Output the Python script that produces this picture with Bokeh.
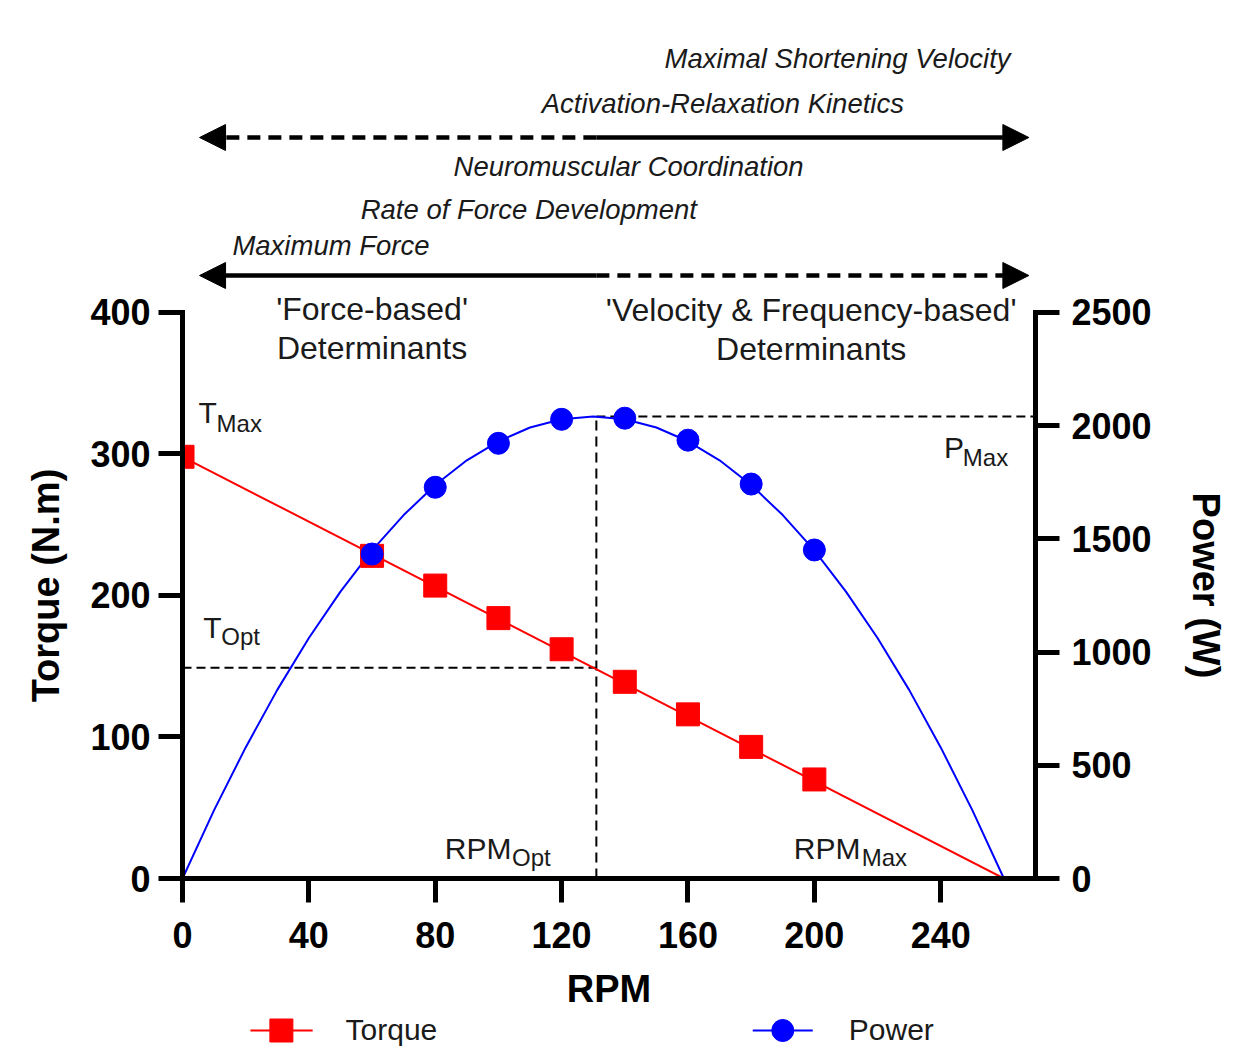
from bokeh.plotting import figure
from bokeh.models import Range1d, LinearAxis, FixedTicker, Arrow, NormalHead
from bokeh.layouts import column
from bokeh.core.properties import value
from bokeh.embed import file_html
from bokeh.resources import INLINE

# ---------------- data ----------------
rpm_ticks = [0, 40, 80, 120, 160, 200, 240]
torque_ticks = [0, 100, 200, 300, 400]
power_ticks = [0, 500, 1000, 1500, 2000, 2500]

torque_rpm = [0, 60, 80, 100, 120, 140, 160, 180, 200]
torque_vals = [298, 228, 207, 184, 162, 139, 116, 93, 70]

power_rpm = [60, 80, 100, 120, 140, 160, 180, 200]
power_vals = [1433, 1728, 1922, 2028, 2033, 1936, 1742, 1451]

torque_fit_rpm = [0, 260]
torque_fit = [298, 0]

power_fit_rpm = [0, 10, 20, 30, 40, 50, 60, 70, 80, 90, 100, 110, 120, 130,
                 140, 150, 160, 170, 180, 190, 200, 210, 220, 230, 240, 250, 260]
power_fit = [0, 302, 579, 833, 1062, 1267, 1449, 1605, 1738, 1847, 1931, 1992, 2028, 2040,
             2028, 1992, 1931, 1847, 1738, 1605, 1449, 1267, 1062, 833, 579, 302, 0]

rpm_opt = 131
torque_opt = 149
power_max = 2040

FONT = "Liberation Sans"
RED = "#ff0000"
BLUE = "#0000ff"
TXT = "#1a1a1a"

W = 1236
LB, RB = 182, 201
x_range = Range1d(0, 270)

common = dict(width=W, x_range=x_range, toolbar_location=None, output_backend="svg",
              min_border_left=LB, min_border_right=RB, title=None,
              outline_line_color=None)

# ---------------- top annotation panel ----------------
top = figure(height=292, y_range=Range1d(292, 0), x_axis_type=None, y_axis_type=None,
             min_border_top=0, min_border_bottom=0, **common)

top.text(x=[152.6, 113.7, 85.8, 56.4, 15.8], y=[57.5, 102.5, 165.5, 208.5, 244.5],
         text=["Maximal Shortening Velocity", "Activation-Relaxation Kinetics",
               "Neuromuscular Coordination", "Rate of Force Development", "Maximum Force"],
         text_font=value(FONT), text_font_style="italic", text_font_size="27.5px",
         text_color=TXT, text_baseline="middle", text_align="left")


def head():
    return NormalHead(size=26, fill_color="black", line_color="black", line_width=1)


# upper arrow: dashed to the left, solid to the right
top.add_layout(Arrow(x_start=rpm_opt, y_start=137, x_end=5.4, y_end=137, end=head(),
                     line_width=4.5, line_dash="13 8", line_color="black"))
top.add_layout(Arrow(x_start=rpm_opt, y_start=137, x_end=267.9, y_end=137, end=head(),
                     line_width=4.5, line_color="black"))
# lower arrow: solid to the left, dashed to the right
top.add_layout(Arrow(x_start=rpm_opt, y_start=275, x_end=5.4, y_end=275, end=head(),
                     line_width=4.5, line_color="black"))
top.add_layout(Arrow(x_start=rpm_opt, y_start=275, x_end=267.9, y_end=275, end=head(),
                     line_width=4.5, line_dash="13 8", line_color="black"))

# ---------------- main chart ----------------
p = figure(height=720, y_range=Range1d(0, 414.1), x_axis_type=None, y_axis_type=None,
           min_border_top=0, min_border_bottom=133, **common)
p.extra_y_ranges = {"power": Range1d(0, 2588.1)}


def style(ax):
    ax.axis_line_width = 5
    ax.axis_line_cap = "square"
    ax.major_tick_line_width = 5
    ax.major_tick_out = 24
    ax.major_tick_in = 0
    ax.minor_tick_line_color = None
    ax.major_label_text_font = FONT
    ax.major_label_text_font_style = "bold"
    ax.major_label_text_font_size = "36px"
    ax.major_label_text_color = "black"
    ax.axis_label_text_font = FONT
    ax.axis_label_text_font_style = "bold"
    ax.axis_label_text_font_size = "38px"
    ax.axis_label_text_color = "black"
    return ax


xaxis = style(LinearAxis(ticker=FixedTicker(ticks=rpm_ticks), bounds=(0, 270),
                         axis_label="RPM"))
xaxis.major_label_standoff = 19
xaxis.axis_label_standoff = 17
p.add_layout(xaxis, "below")

yaxis = style(LinearAxis(ticker=FixedTicker(ticks=torque_ticks), bounds=(0, 400),
                         axis_label="Torque (N.m)"))
yaxis.major_label_standoff = 8
yaxis.axis_label_standoff = 20
p.add_layout(yaxis, "left")

raxis = style(LinearAxis(y_range_name="power", ticker=FixedTicker(ticks=power_ticks),
                         bounds=(0, 2500), axis_label="Power (W)"))
raxis.major_label_standoff = 12
raxis.axis_label_standoff = 30
p.add_layout(raxis, "right")

# reference dashed lines
p.line([0, rpm_opt], [torque_opt, torque_opt], line_color="black", line_width=2,
       line_dash="9 5")
p.line([rpm_opt, rpm_opt], [0, power_max], y_range_name="power", line_color="black",
       line_width=2, line_dash="10 6")
p.line([rpm_opt, 270], [power_max, power_max], y_range_name="power", line_color="black",
       line_width=2, line_dash="9 5")

# series
p.line(power_fit_rpm, power_fit, y_range_name="power", line_color=BLUE, line_width=2)
p.line(torque_fit_rpm, torque_fit, line_color=RED, line_width=2)
p.scatter(torque_rpm, torque_vals, marker="square", size=23, color=RED)
p.scatter(power_rpm, power_vals, y_range_name="power", marker="circle", size=22,
          color=BLUE)

# region labels
p.text(x=[60, 60, 199, 199], y=[402.1, 374.6, 401.4, 373.9],
       text=["'Force-based'", "Determinants", "'Velocity & Frequency-based'", "Determinants"],
       text_font=value(FONT), text_font_size="32px", text_color=TXT,
       text_baseline="middle", text_align="center")

# point labels with subscripts
p.text(x=[5.1, 6.6, 241.0, 83.0, 193.5], y=[329.5, 177.1, 304.8, 21.2, 21.2],
       text=["T", "T", "P", "RPM", "RPM"],
       text_font=value(FONT), text_font_size="30px", text_color=TXT,
       text_baseline="middle", text_align="left")
p.text(x=[10.8, 12.3, 247.0, 104.3, 215.0], y=[321.7, 170.7, 297.7, 14.8, 14.8],
       text=["Max", "Opt", "Max", "Opt", "Max"],
       text_font=value(FONT), text_font_size="24px", text_color=TXT,
       text_baseline="middle", text_align="left")

# ---------------- legend strip ----------------
leg = figure(height=34, y_range=Range1d(1046, 1012), x_axis_type=None, y_axis_type=None,
             min_border_top=0, min_border_bottom=0, **common)
leg.line([21.5, 41.2], [1030, 1030], line_color=RED, line_width=2)
leg.scatter([31.3], [1030], marker="square", size=23, color=RED)
leg.line([180.5, 199.5], [1030, 1030], line_color=BLUE, line_width=2)
leg.scatter([190.0], [1030], marker="circle", size=22, color=BLUE)
leg.text(x=[51.6, 210.9], y=[1029, 1029], text=["Torque", "Power"],
         text_font=value(FONT), text_font_size="30px", text_color=TXT,
         text_baseline="middle", text_align="left")

layout = column(top, p, leg)
open("out.html", "w").write(file_html(layout, INLINE))
